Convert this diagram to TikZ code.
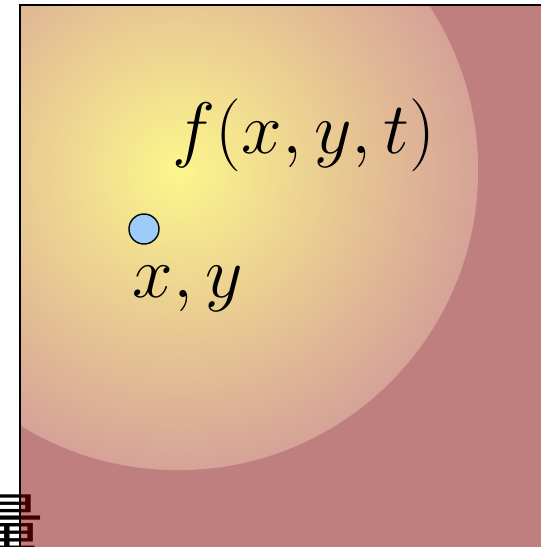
\documentclass[tikz,border=0pt]{standalone}
\usepackage{fontspec}
\newfontfamily\cjk{Noto Sans CJK SC}
\usetikzlibrary{positioning}
\definecolor{fieldcore}{RGB}{252,246,140}
\definecolor{fieldrim}{RGB}{214,162,152}
\definecolor{probe}{RGB}{158,204,250}

\begin{document}
\begin{tikzpicture}[x=0.01cm, y=-0.01cm, font=\huge,
    probedot/.style={circle, draw=black, fill=probe, minimum size=0.3cm, inner sep=0pt},
    tag/.style={inner sep=0pt, anchor=base}
]
\useasboundingbox (0,0) rectangle (541,547);
\clip (0,0) rectangle (541,547);
% Glyph behind the domain
\node[anchor=north east, inner sep=0pt, font=\cjk\fontsize{21pt}{21pt}\selectfont] (glyph) at (45,494) {量};
% Domain
\fill[red!50!black, opacity=0.5] (20,5) rectangle (560,560);
\begin{scope}
  \clip (20,5) rectangle (560,560);
  \shade[inner color=fieldcore, outer color=fieldrim] (178,170) circle (3cm);
\end{scope}
\draw[black] (560,5) -- (20,5) -- (20,560);
% Point and labels
\node[probedot] (pt) at (144,229) {};
\node[tag] (ptlabel) at (188,297) {$x,y$};
\node[tag] (field) at (304,153) {$f(x,y,t)$};
\end{tikzpicture}
\end{document}
